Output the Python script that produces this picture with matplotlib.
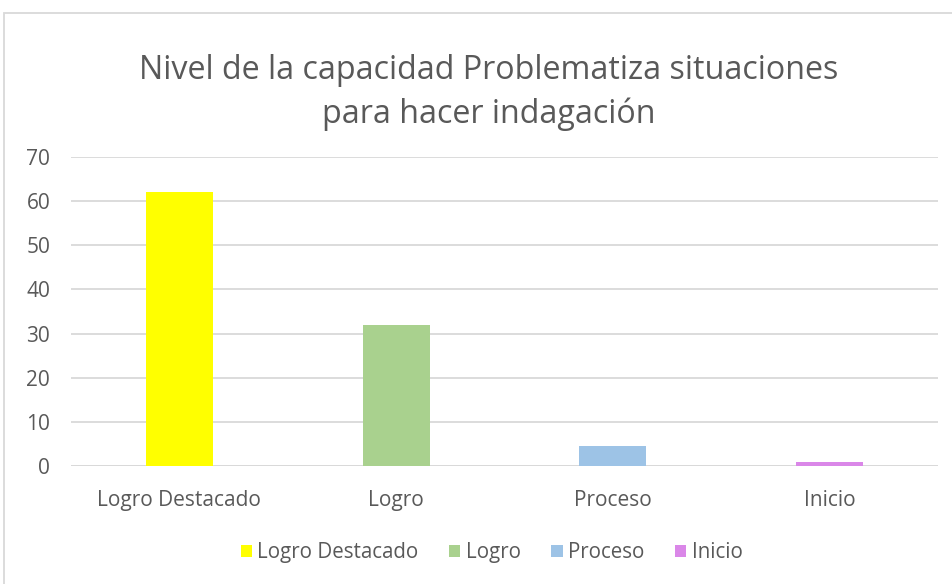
import matplotlib
matplotlib.use("Agg")
from matplotlib import pyplot as plt
from matplotlib.patches import Rectangle
import numpy as np

# datos
categorias = ["Logro Destacado", "Logro", "Proceso", "Inicio"]
valores = [62, 32, 4.5, 1]
colores = ["#FFFF00", "#A9D18E", "#9DC3E6", "#DA87E8"]
ticks_y = [0, 10, 20, 30, 40, 50, 60, 70]

plt.rcParams['font.family'] = ['Open Sans', 'DejaVu Sans']
gris = "#595959"

fig = plt.figure(figsize=(9.52, 5.84), dpi=100)
ax = fig.add_axes([71 / 952, 0.202, 867 / 952, 0.529])

x = np.arange(len(categorias))
barras = ax.bar(x, valores, width=0.31, color=colores, zorder=3)

ax.set_xlim(-0.5, len(categorias) - 0.5)
ax.set_ylim(0, 70)
ax.set_yticks(ticks_y)
ax.set_xticks(x)
ax.set_xticklabels(categorias)
ax.yaxis.grid(True, color="#D9D9D9", linewidth=1.3, zorder=0)
ax.tick_params(axis="both", length=0, labelsize=15, labelcolor=gris)
ax.tick_params(axis="x", pad=17)
ax.tick_params(axis="y", pad=15)
for s in ax.spines.values():
    s.set_visible(False)
ax.axhline(0, color="#D9D9D9", linewidth=1.3, zorder=2)

# título
fig.text(0.513, 0.842, "Nivel de la capacidad Problematiza situaciones\npara hacer indagación",
         ha="center", va="center", fontsize=23.2, color=gris, linespacing=1.4)

leg = ax.legend(barras, categorias, loc="center", bbox_to_anchor=(0.485, -0.28),
                ncol=4, frameon=False, fontsize=14.8, labelcolor=gris,
                handlelength=0.55, handleheight=0.55, handletextpad=0.25, columnspacing=1.5)

# marco del gráfico
fig.patches.append(Rectangle((4 / 952, -0.05), 1.2, 1 - 13 / 584 + 0.05,
                             transform=fig.transFigure, fill=False,
                             edgecolor="#D9D9D9", linewidth=1.3))

fig.savefig("out.png", dpi=100)
